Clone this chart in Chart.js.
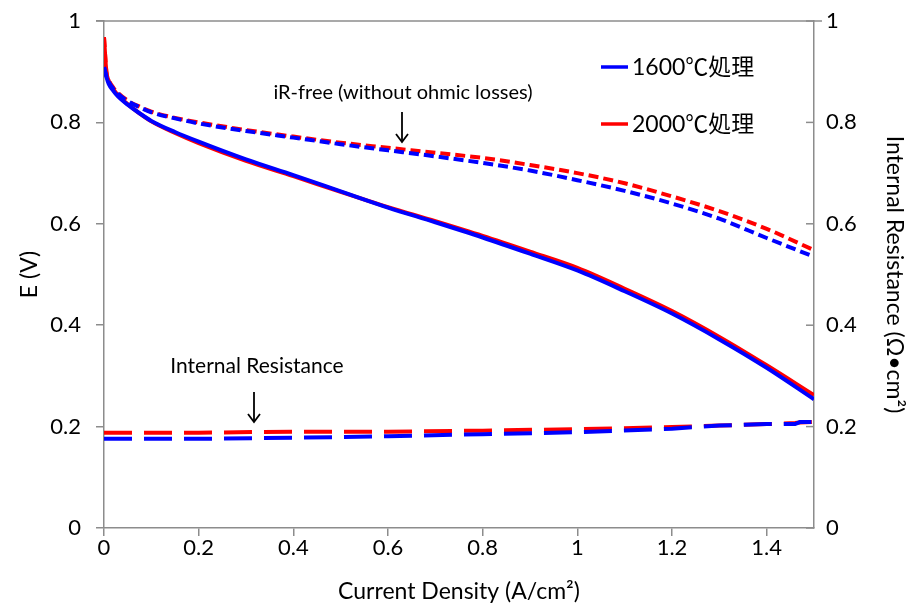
<!DOCTYPE html>
<html>
<head>
<meta charset="utf-8">
<script src="https://cdn.jsdelivr.net/npm/chart.js@4.4.0/dist/chart.umd.min.js"></script>
<style>
html,body{margin:0;padding:0;background:#fff;}
#wrap{width:919px;height:612px;position:relative;}
</style>
</head>
<body>
<div id="wrap"><canvas id="c" width="919" height="612"></canvas></div>
<script>
// ---- data ----
const seriesNames = ['1600℃処理', '2000℃処理'];
const currentDensity = [0, 0.005, 0.01, 0.02, 0.03, 0.05, 0.075, 0.1, 0.15, 0.2, 0.3, 0.4, 0.5, 0.6, 0.7, 0.8, 0.9, 1.0, 1.1, 1.2, 1.3, 1.4, 1.5];
const E1600 = [0.909, 0.89, 0.876, 0.862, 0.851, 0.835, 0.818, 0.803, 0.781, 0.762, 0.727, 0.696, 0.664, 0.632, 0.603, 0.573, 0.541, 0.508, 0.467, 0.423, 0.372, 0.316, 0.254];
const E2000 = [0.968, 0.9, 0.882, 0.865, 0.853, 0.836, 0.818, 0.802, 0.779, 0.759, 0.724, 0.694, 0.663, 0.633, 0.605, 0.576, 0.545, 0.513, 0.472, 0.428, 0.377, 0.321, 0.262];
const iRfree1600 = [0.909, 0.892, 0.88, 0.866, 0.856, 0.842, 0.83, 0.82, 0.808, 0.798, 0.783, 0.77, 0.757, 0.745, 0.733, 0.72, 0.705, 0.686, 0.665, 0.64, 0.61, 0.572, 0.535];
const iRfree2000 = [0.968, 0.9, 0.884, 0.868, 0.858, 0.843, 0.831, 0.821, 0.809, 0.8, 0.785, 0.772, 0.76, 0.75, 0.74, 0.73, 0.716, 0.7, 0.68, 0.654, 0.625, 0.59, 0.548];
const irCurrent = [0, 0.2, 0.4, 0.6, 0.8, 1.0, 1.2, 1.3, 1.4, 1.46, 1.47, 1.5];
const R1600 = [0.176, 0.176, 0.178, 0.181, 0.185, 0.189, 0.196, 0.202, 0.205, 0.205, 0.209, 0.209];
const R2000 = [0.188, 0.188, 0.19, 0.19, 0.192, 0.195, 0.199, 0.202, 0.205, 0.207, 0.208, 0.209];
const xTicks = [0, 0.2, 0.4, 0.6, 0.8, 1, 1.2, 1.4];
const yTicks = [0, 0.2, 0.4, 0.6, 0.8, 1];

const BLUE = '#0000ff', RED = '#ff0000', AXIS = '#8c8c8c';
const FONT = 'Lato, "Noto Sans CJK JP", sans-serif';

function pts(xs, ys){ return xs.map((x,i)=>({x:x, y:ys[i]})); }

const annot = {
  id:'annot',
  afterDraw(chart){
    const ctx = chart.ctx, ca = chart.chartArea;
    const y2 = chart.scales.y2;
    ctx.save();
    // top border
    ctx.strokeStyle = AXIS; ctx.lineWidth = 1.5;
    ctx.beginPath(); ctx.moveTo(ca.left - 8, ca.top); ctx.lineTo(ca.right + 8, ca.top); ctx.stroke();
    // inside ticks on right axis
    yTicks.forEach(v=>{
      const py = y2.getPixelForValue(v);
      ctx.beginPath(); ctx.moveTo(ca.right - 8, py); ctx.lineTo(ca.right, py); ctx.stroke();
    });
    // annotations
    ctx.fillStyle = '#000'; ctx.strokeStyle = '#000'; ctx.lineWidth = 1.8;
    ctx.textAlign = 'center'; ctx.textBaseline = 'middle';
    ctx.font = '20px ' + FONT;
    ctx.fillText('iR-free (without ohmic losses)', 403, 93);
    ctx.font = '21px ' + FONT;
    ctx.fillText('Internal Resistance', 257, 366);
    function arrow(x, y0, y1){
      ctx.beginPath(); ctx.moveTo(x, y0); ctx.lineTo(x, y1); ctx.stroke();
      ctx.beginPath(); ctx.moveTo(x-6, y1-8); ctx.lineTo(x, y1); ctx.lineTo(x+6, y1-8); ctx.stroke();
    }
    arrow(402, 112, 142);
    arrow(254, 392, 422);
    // legend
    ctx.font = '23px ' + FONT; ctx.textAlign = 'left';
    [[BLUE, 67], [RED, 124]].forEach((c, i)=>{
      ctx.strokeStyle = c[0]; ctx.lineWidth = 3.5;
      ctx.beginPath(); ctx.moveTo(601, c[1]); ctx.lineTo(628, c[1]); ctx.stroke();
      ctx.fillStyle = '#000';
      ctx.fillText(seriesNames[i], 632, c[1] + 1);
    });
    ctx.restore();
  }
};

function fixV(w){ return function(s){ s.width = w; s.paddingTop = 0; s.paddingBottom = 0; }; }

const common = {pointRadius:0, borderWidth:4, fill:false, cubicInterpolationMode:'monotone'};
new Chart(document.getElementById('c'), {
  type:'line',
  data:{
    datasets:[
      Object.assign({label:seriesNames[0]+' E', data:pts(currentDensity, E1600), borderColor:BLUE, yAxisID:'y'}, common),
      Object.assign({label:seriesNames[0]+' iR-free', data:pts(currentDensity, iRfree1600), borderColor:BLUE, borderDash:[10,5], yAxisID:'y'}, common),
      Object.assign({label:seriesNames[0]+' R', data:pts(irCurrent, R1600), borderColor:BLUE, borderDash:[28,12], yAxisID:'y2'}, common, {cubicInterpolationMode:'default', tension:0}),
      Object.assign({label:seriesNames[1]+' E', data:pts(currentDensity, E2000), borderColor:RED, yAxisID:'y'}, common),
      Object.assign({label:seriesNames[1]+' iR-free', data:pts(currentDensity, iRfree2000), borderColor:RED, borderDash:[10,5], yAxisID:'y'}, common),
      Object.assign({label:seriesNames[1]+' R', data:pts(irCurrent, R2000), borderColor:RED, borderDash:[28,12], yAxisID:'y2'}, common, {cubicInterpolationMode:'default', tension:0})
    ]
  },
  options:{
    responsive:false, animation:false,
    layout:{padding:{top:21, left:0, right:0, bottom:0}},
    plugins:{legend:{display:false}, tooltip:{enabled:false}},
    scales:{
      x:{type:'linear', min:0, max:1.5,
        afterBuildTicks(s){ s.ticks = xTicks.map(v=>({value:v})); },
        afterFit(s){ s.height = 84; s.paddingLeft = 0; s.paddingRight = 0; },
        grid:{drawOnChartArea:false, color:AXIS, tickLength:8, lineWidth:1.5},
        border:{color:AXIS, width:1.5},
        ticks:{color:'#000', font:{family:FONT, size:22}, padding:-1, maxRotation:0, callback:v=>String(v)},
        title:{display:true, text:'Current Density (A/cm²)', color:'#000', font:{family:FONT, size:23}, padding:{top:0, bottom:7}}
      },
      y:{type:'linear', position:'left', min:0, max:1,
        afterBuildTicks(s){ s.ticks = yTicks.map(v=>({value:v})); },
        afterFit: fixV(104),
        grid:{drawOnChartArea:false, color:AXIS, tickLength:8, lineWidth:1.5},
        border:{color:AXIS, width:1.5},
        ticks:{color:'#000', font:{family:FONT, size:22}, padding:15, callback:v=>String(v)},
        title:{display:true, text:'E (V)', color:'#000', font:{family:FONT, size:23}, padding:{top:16, bottom:0}}
      },
      y2:{type:'linear', position:'right', min:0, max:1,
        afterBuildTicks(s){ s.ticks = yTicks.map(v=>({value:v})); },
        afterFit: fixV(105),
        grid:{drawOnChartArea:false, drawTicks:false, color:AXIS, lineWidth:1.5},
        border:{color:AXIS, width:1.5},
        ticks:{color:'#000', font:{family:FONT, size:22}, padding:12, callback:v=>String(v)},
        title:{display:true, text:'Internal Resistance (Ω•cm²)', color:'#000', font:{family:FONT, size:23}, padding:{top:11, bottom:0}}
      }
    }
  },
  plugins:[annot]
});
</script>
</body>
</html>
